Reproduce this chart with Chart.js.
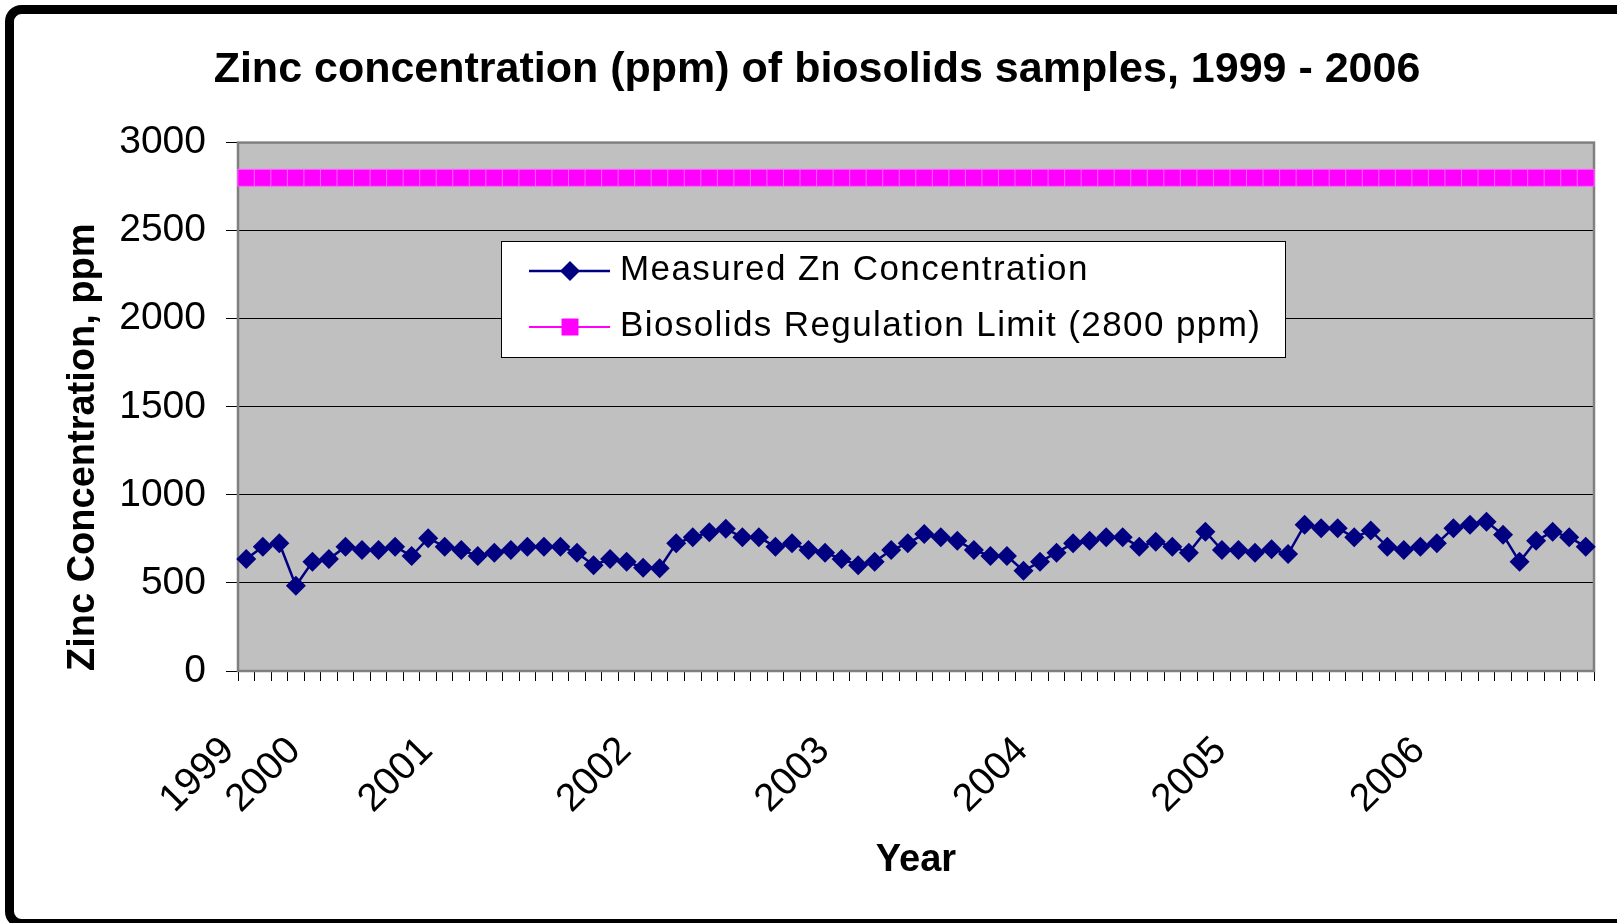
<!DOCTYPE html>
<html>
<head>
<meta charset="utf-8">
<title>Zinc concentration of biosolids samples</title>
<script src="https://cdn.jsdelivr.net/npm/chart.js@4.4.1/dist/chart.umd.min.js"></script>
<style>
  html, body { margin: 0; padding: 0; background: #fff; overflow: hidden; }
  canvas { display: block; }
</style>
</head>
<body>
<canvas id="zinc" width="1617" height="923"></canvas>
<script>
// year labels and the sample where each year starts
const yearLabels = ['1999', '2000', '2001', '2002', '2003', '2004', '2005', '2006'];
const yearStart = [0, 4, 12, 24, 36, 48, 60, 72];

// measured Zn, ppm (one per sample)
const zincValues = [
  636, 706, 725, 484, 620, 636, 706, 687, 687, 706,
  653, 754, 706, 687, 653, 672, 687, 706, 706, 706,
  672, 601, 636, 620, 586, 583, 725, 759, 788, 807,
  759, 759, 706, 725, 687, 672, 636, 601, 620, 687,
  725, 778, 759, 740, 687, 653, 653, 569, 620, 672,
  725, 740, 759, 759, 706, 734, 706, 672, 791, 687,
  687, 672, 691, 664, 830, 811, 811, 759, 797, 706,
  687, 706, 725, 811, 830, 848, 773, 620, 740, 791,
  759, 706
];

// regulation limit is the same for every sample
const limitValue = 2800;
const yTicks = [0, 500, 1000, 1500, 2000, 2500, 3000];

var sampleLabels = zincValues.map(() => '');
yearStart.forEach((pos, i) => { sampleLabels[pos] = yearLabels[i]; });
var limitValues = zincValues.map(() => limitValue);

const FONT = '"Liberation Sans", Arial, sans-serif';

// gray plot background, plot border, legend box and the outer frame
const chartDecor = {
  id: 'chartDecor',
  beforeDraw(chart) {
    const {ctx, chartArea: a} = chart;
    ctx.save();
    ctx.fillStyle = '#c0c0c0';
    ctx.fillRect(a.left, a.top, a.right - a.left, a.bottom - a.top);
    ctx.restore();
  },
  beforeDatasetsDraw(chart) {
    const {ctx, chartArea: a} = chart;
    ctx.save();
    ctx.strokeStyle = '#808080';
    ctx.lineWidth = 2.5;
    ctx.strokeRect(a.left, a.top, a.right - a.left, a.bottom - a.top);
    ctx.restore();
  },
  afterDatasetsDraw(chart) {
    const ctx = chart.ctx;
    ctx.save();
    ctx.fillStyle = '#fff';
    ctx.fillRect(501, 241, 784, 116);
    ctx.strokeStyle = '#000';
    ctx.lineWidth = 1;
    ctx.strokeRect(501.5, 241.5, 784, 116);
    ctx.font = '35px ' + FONT;
    ctx.letterSpacing = '1.4px';
    ctx.textBaseline = 'alphabetic';
    chart.data.datasets.forEach((ds, i) => {
      const y = 271 + i * 56;
      ctx.strokeStyle = ds.borderColor;
      ctx.lineWidth = ds.borderWidth;
      ctx.beginPath();
      ctx.moveTo(529, y);
      ctx.lineTo(610, y);
      ctx.stroke();
      ctx.fillStyle = ds.pointBackgroundColor;
      Chart.helpers.drawPoint(ctx, {pointStyle: ds.pointStyle, radius: ds.pointRadius, rotation: 0, borderWidth: 0}, 570, y);
      ctx.fillStyle = '#000';
      ctx.fillText(ds.label, 620, y + 9);
    });
    ctx.restore();
  },
  afterDraw(chart) {
    // frame: left side with round corners, top and bottom run off the right edge
    const ctx = chart.ctx;
    ctx.save();
    ctx.strokeStyle = '#000';
    ctx.fillStyle = '#000';
    ctx.lineWidth = 9;
    ctx.beginPath();
    ctx.moveTo(100, 9.5);
    ctx.arcTo(9.5, 9.5, 9.5, 923.5, 12);
    ctx.arcTo(9.5, 923.5, 100, 923.5, 12);
    ctx.lineTo(100, 923.5);
    ctx.stroke();
    ctx.fillRect(99, 5, chart.width, 9);
    ctx.fillRect(99, 919, chart.width, 9);
    ctx.restore();
  }
};

new Chart(document.getElementById('zinc'), {
  type: 'line',
  data: {
    labels: sampleLabels,
    datasets: [
      {
        label: 'Measured Zn Concentration',
        data: zincValues,
        borderColor: '#000080',
        borderWidth: 2.5,
        pointStyle: 'rectRot',
        pointRadius: 10,
        pointBackgroundColor: '#000080',
        pointBorderWidth: 0,
        tension: 0
      },
      {
        label: 'Biosolids Regulation Limit (2800 ppm)',
        data: limitValues,
        borderColor: '#ff00ff',
        borderWidth: 2,
        pointStyle: 'rect',
        pointRadius: 12,
        pointBackgroundColor: '#ff00ff',
        pointBorderColor: '#ff66ff',
        pointBorderWidth: 1,
        tension: 0
      }
    ]
  },
  options: {
    responsive: false,
    animation: false,
    events: [],
    layout: { padding: { left: 40, right: 23, top: 0, bottom: 0 } },
    plugins: {
      legend: { display: false },
      tooltip: { enabled: false },
      title: {
        display: true,
        text: 'Zinc concentration (ppm) of biosolids samples, 1999 - 2006',
        color: '#000',
        font: { family: FONT, size: 43, weight: 'bold' },
        padding: { top: 44, bottom: 47 }
      }
    },
    scales: {
      x: {
        offset: true,
        afterFit: (scale) => {
          scale.height = 252;
          scale.paddingLeft = 0;
          scale.paddingRight = 0;
        },
        border: { display: false },
        grid: {
          offset: true,
          drawOnChartArea: false,
          drawTicks: true,
          tickLength: 10,
          color: '#000',
          lineWidth: 1
        },
        ticks: {
          autoSkip: false,
          maxRotation: 45,
          minRotation: 45,
          padding: 47,
          labelOffset: -18,
          color: '#000',
          font: { family: FONT, size: 39 }
        },
        title: {
          display: true,
          text: 'Year',
          color: '#000',
          font: { family: FONT, size: 38, weight: 'bold' },
          padding: { top: 0, bottom: 40 }
        }
      },
      y: {
        min: 0,
        max: 3000,
        afterFit: (scale) => { scale.width = 198; },
        afterBuildTicks: (scale) => { scale.ticks = yTicks.map(v => ({ value: v })); },
        border: { display: false },
        grid: {
          color: '#000',
          lineWidth: 1,
          drawTicks: true,
          tickLength: 12,
          tickColor: '#000'
        },
        ticks: {
          padding: 20,
          color: '#000',
          font: { family: FONT, size: 39 },
          callback: (value) => String(value)
        },
        title: {
          display: true,
          text: 'Zinc Concentration, ppm',
          align: 'start',
          color: '#000',
          font: { family: FONT, size: 38, weight: 'bold' },
          padding: { top: 21, bottom: 0 }
        }
      }
    }
  },
  plugins: [chartDecor]
});
</script>
</body>
</html>
